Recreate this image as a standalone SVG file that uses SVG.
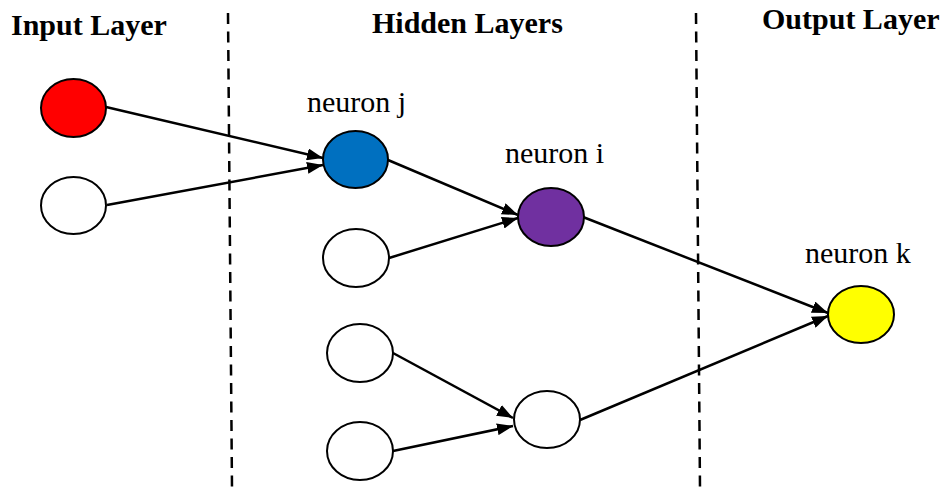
<svg xmlns="http://www.w3.org/2000/svg" width="951" height="490" viewBox="0 0 951 490">
<style>
.title{font-family:"Liberation Serif","Times New Roman",serif;font-weight:bold;font-size:30px;fill:#000}
.lbl{font-family:"Liberation Serif","Times New Roman",serif;font-size:30px;fill:#000}
.node{stroke:#000;stroke-width:2}
.edge{stroke:#000;stroke-width:2.5;fill:none}
.div{stroke:#000;stroke-width:2.5;stroke-dasharray:11 7.5;fill:none}
</style>
<defs>
<marker id="ah" markerUnits="userSpaceOnUse" markerWidth="16" markerHeight="12" refX="16" refY="6" orient="auto">
<path d="M0,0 L16,6 L0,12 z" fill="#000"/>
</marker>
</defs>
<g id="dividers">
<line class="div" x1="228" y1="13" x2="232" y2="488"/>
<line class="div" x1="696" y1="13" x2="700" y2="488"/>
</g>
<g id="titles">
<text class="title" x="11" y="35">Input Layer</text>
<text class="title" x="372" y="33">Hidden Layers</text>
<text class="title" x="762" y="29">Output Layer</text>
</g>
<g id="connectors">
<line class="edge" x1="106" y1="107" x2="323" y2="158" marker-end="url(#ah)"/>
<line class="edge" x1="107" y1="205" x2="323" y2="165" marker-end="url(#ah)"/>
<line class="edge" x1="388" y1="160" x2="518" y2="215" marker-end="url(#ah)"/>
<line class="edge" x1="389" y1="258" x2="518" y2="218" marker-end="url(#ah)"/>
<line class="edge" x1="583" y1="217" x2="828" y2="313" marker-end="url(#ah)"/>
<line class="edge" x1="580" y1="420" x2="828" y2="316" marker-end="url(#ah)"/>
<line class="edge" x1="393" y1="353" x2="513" y2="418" marker-end="url(#ah)"/>
<line class="edge" x1="393" y1="451" x2="513" y2="426" marker-end="url(#ah)"/>
</g>
<g id="input-red"><ellipse class="node" cx="73.5" cy="108" rx="32.5" ry="29" fill="#FF0000"/></g>
<g id="input-white"><ellipse class="node" cx="73.5" cy="205.5" rx="32.5" ry="28.5" fill="#FFFFFF"/></g>
<g id="neuron-j"><ellipse class="node" cx="355.5" cy="159.5" rx="32.5" ry="28.5" fill="#0070C0"/><text class="lbl" x="307" y="112">neuron j</text></g>
<g id="hidden-a"><ellipse class="node" cx="356" cy="258" rx="33" ry="29" fill="#FFFFFF"/></g>
<g id="neuron-i"><ellipse class="node" cx="551" cy="217" rx="33" ry="29" fill="#7030A0"/><text class="lbl" x="505" y="163">neuron i</text></g>
<g id="hidden-b"><ellipse class="node" cx="360" cy="353" rx="33" ry="29" fill="#FFFFFF"/></g>
<g id="hidden-c"><ellipse class="node" cx="360" cy="451" rx="33" ry="29" fill="#FFFFFF"/></g>
<g id="hidden-d"><ellipse class="node" cx="547" cy="419.5" rx="33" ry="28.5" fill="#FFFFFF"/></g>
<g id="neuron-k"><ellipse class="node" cx="861" cy="314.5" rx="33" ry="28.5" fill="#FFFF00"/><text class="lbl" x="805" y="263">neuron k</text></g>
</svg>
